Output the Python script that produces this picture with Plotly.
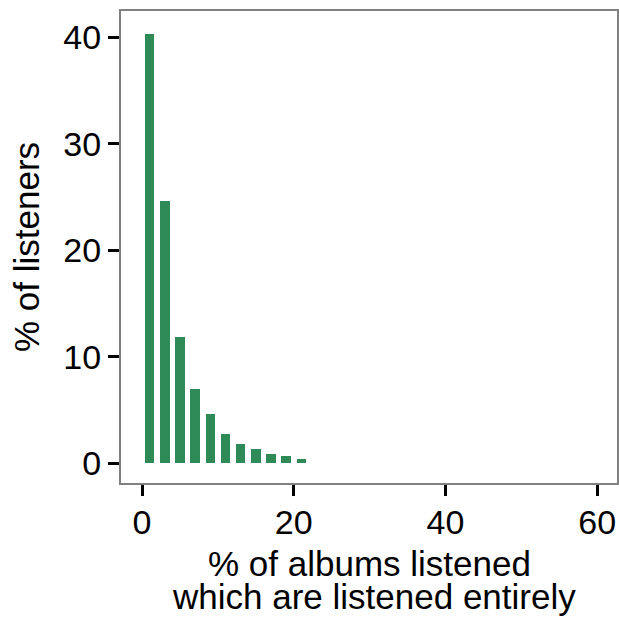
import plotly.graph_objects as go

bin_centers = [1, 3, 5, 7, 9, 11, 13, 15, 17, 19, 21]
pct_listeners = [40.38, 24.66, 11.86, 7.0, 4.65, 2.77, 1.76, 1.36, 0.88, 0.63, 0.38]
x_ticks = [0, 20, 40, 60]
y_ticks = [0, 10, 20, 30, 40]
x_title_lines = ["% of albums listened", "which are listened entirely"]
y_title = "% of listeners"

FONT = "Liberation Sans, Arial, sans-serif"
FS_TICK = 34
FS_TITLE = 35

fig = go.Figure()
fig.add_trace(go.Bar(
    x=bin_centers, y=pct_listeners, width=1.25,
    marker=dict(color="#2E8B57", line=dict(width=0)),
))

W, H = 619, 620
L, R, T, B = 121, 2, 11, 137
plot_h = H - T - B
plot_w = W - L - R

fig.update_layout(
    width=W, height=H,
    margin=dict(l=L, r=R, t=T, b=B, pad=0, autoexpand=False),
    paper_bgcolor="white", plot_bgcolor="white",
    showlegend=False,
    font=dict(family=FONT, size=FS_TICK, color="black"),
    bargap=0,
)
fig.update_xaxes(
    range=[-2.77, 62.6], tickvals=x_ticks, ticktext=[str(v) for v in x_ticks],
    showgrid=False, zeroline=False, automargin=False,
    showline=True, linecolor="#808080", linewidth=2, mirror=True,
    ticks="outside", ticklen=11, tickwidth=3, tickcolor="black",
    ticklabelstandoff=-3,
    tickfont=dict(size=FS_TICK, color="black", family=FONT),
)
fig.update_yaxes(
    range=[-1.88, 42.5], tickvals=y_ticks, ticktext=[str(v) for v in y_ticks],
    showgrid=False, zeroline=False, automargin=False,
    showline=True, linecolor="#808080", linewidth=2, mirror=True,
    ticks="outside", ticklen=11, tickwidth=3, tickcolor="black",
    tickfont=dict(size=FS_TICK, color="black", family=FONT),
)

def py(px_from_top):
    return (T + plot_h - px_from_top) / plot_h

def px(px_from_left):
    return (px_from_left - L) / plot_w

fig.add_annotation(text=x_title_lines[0], xref="paper", yref="paper",
                   x=0.5, y=py(563), xanchor="center", yanchor="middle",
                   showarrow=False, font=dict(size=FS_TITLE, family=FONT, color="black"))
fig.add_annotation(text=x_title_lines[1], xref="paper", yref="paper",
                   x=0.5, y=py(596), xanchor="center", yanchor="middle", xshift=5,
                   showarrow=False, font=dict(size=FS_TITLE, family=FONT, color="black"))
fig.add_annotation(text=y_title, xref="paper", yref="paper",
                   x=px(26), y=0.5, xanchor="center", yanchor="middle", textangle=-90,
                   showarrow=False, font=dict(size=FS_TITLE, family=FONT, color="black"))

fig.write_html(
    "out.html",
    config={"displayModeBar": False},
    post_script="document.body.style.margin='0';document.body.style.overflow='hidden';",
)
